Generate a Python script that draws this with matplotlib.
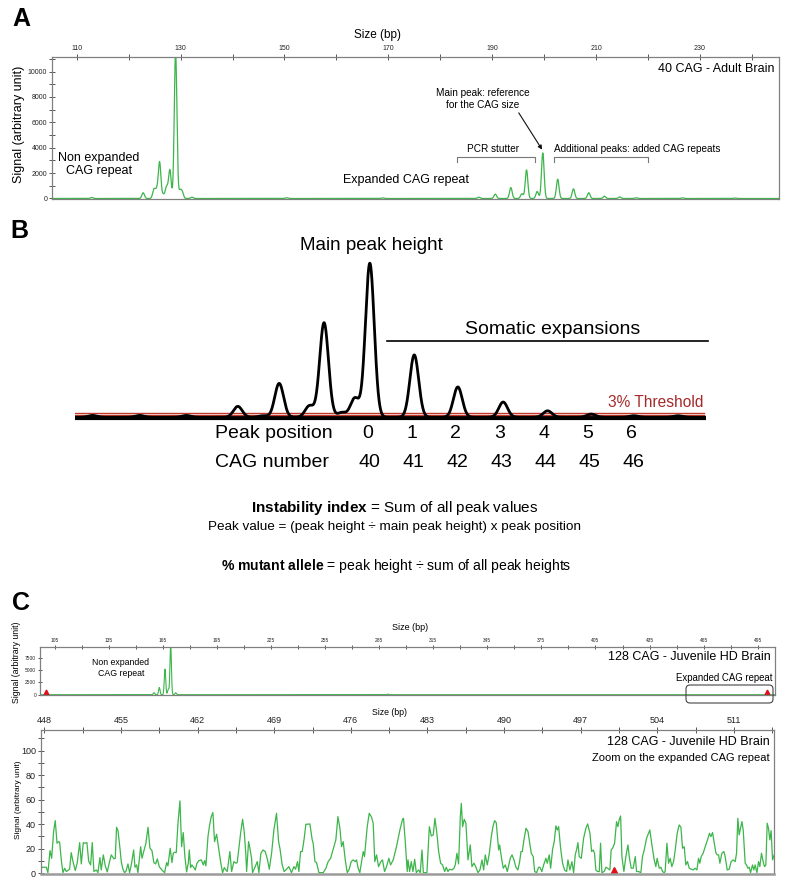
import numpy as np
import matplotlib
matplotlib.use("Agg")
import matplotlib.pyplot as plt
from matplotlib.patches import FancyBboxPatch
from matplotlib.transforms import blended_transform_factory, IdentityTransform

plt.rcParams['font.family'] = ['Liberation Sans', 'DejaVu Sans']
plt.rcParams['mathtext.fontset'] = 'custom'
plt.rcParams['mathtext.rm'] = 'Liberation Sans'
plt.rcParams['mathtext.it'] = 'Liberation Sans:italic'
plt.rcParams['mathtext.bf'] = 'Liberation Sans:bold'

# ---------------- data ----------------
# Panel A: 40 CAG adult brain (peak table: size bp, signal)
a_peak_bp = [112.9, 122.8, 124.87, 125.38, 125.96, 126.65, 127.3, 127.94, 129.04, 129.87,
             130.3, 132.2, 150.4, 168.9, 187.42, 190.58, 193.58, 195.7, 196.6, 198.65,
             199.73, 202.6, 205.63, 208.58, 211.6, 214.54, 217.7, 226.6, 236.7]
a_peak_signal = [80, 450, 700, 600, 2860, 300, 900, 2250, 11600, 550,
                 500, 100, 60, 50, 100, 340, 860, 370, 2250, 550,
                 3590, 1520, 760, 450, 180, 120, 60, 50, 40]
a_xticks = [110, 130, 150, 170, 190, 210, 230]
a_xminor = [120, 140, 160, 180, 200, 220, 240]
a_yticks = [0, 2000, 4000, 6000, 8000, 10000]
a_yminor = [1000, 3000, 5000, 7000, 9000, 11000]

# Panel B: schematic profile (CAG number, relative height, main peak = 100)
b_peak_cag = [33.7, 34.77, 35.83, 37.0, 37.57, 37.94, 38.63, 38.96, 39.36, 39.66,
              40.0, 41.01, 42.0, 43.03, 44.04, 45.03, 46.0, 47.0]
b_peak_height = [1.2, 1.2, 1.2, 7.1, 1.0, 22, 7.5, 61.4, 3.1, 12.5,
                 100, 40.5, 19.7, 9.9, 4.2, 2.1, 1.0, 1.0]
b_threshold = 3.0
b_peak_position = [0, 1, 2, 3, 4, 5, 6]
b_cag_number = [40, 41, 42, 43, 44, 45, 46]

# Panel C top: 128 CAG juvenile HD brain (peak table)
ct_peak_bp = [160.05, 163.0, 166.15, 167.98, 169.3, 172.1, 289.9]
ct_peak_signal = [400, 1470, 5180, 1100, 10200, 400, 120]
ct_xticks = [105, 135, 165, 195, 225, 255, 285, 315, 345, 375, 405, 435, 465, 495]
ct_xminor = [120, 150, 180, 210, 240, 270, 300, 330, 360, 390, 420, 450, 480]
ct_yticks = [0, 2500, 5000, 7500]
size_std_bp = [100, 500]

cb_bp = [447.57, 447.79, 448.18, 448.33, 448.52, 448.67, 448.85, 449.00, 449.16, 449.31,
         449.40, 449.55, 449.70, 449.86, 450.01, 450.31, 450.46, 450.62, 450.83, 451.01,
         451.23, 451.38, 451.56, 451.71, 451.89, 452.05, 452.23, 452.38, 452.53, 452.75,
         452.90, 453.08, 453.20, 453.39, 453.57, 453.75, 453.96, 454.12, 454.36, 454.48,
         454.60, 454.73, 454.91, 455.03, 455.18, 455.33, 455.46, 455.64, 455.79, 455.97,
         456.16, 456.28, 456.43, 456.55, 456.80, 456.92, 457.10, 457.28, 457.47, 457.65,
         457.83, 458.01, 458.17, 458.32, 458.50, 458.74, 458.99, 459.17, 459.29, 459.50,
         459.66, 459.78, 459.90, 460.05, 460.21, 460.39, 460.54, 460.69, 460.84, 461.00,
         461.15, 461.24, 461.36, 461.48, 461.64, 461.79, 461.94, 462.12, 462.34, 462.52,
         462.64, 462.76, 462.95, 463.10, 463.25, 463.40, 463.55, 463.74, 463.92, 464.10,
         464.28, 464.44, 464.59,
         464.71, 464.95, 465.11, 465.32, 465.50, 465.62, 465.93, 466.11, 466.26, 466.41,
         466.48, 466.66, 466.78, 466.93, 467.02, 467.24, 467.45, 467.60, 467.78, 467.98,
         468.18, 468.39, 468.55, 468.76, 468.97, 469.21, 469.40, 469.52, 469.73, 469.91,
         470.13, 470.34, 470.58, 470.80, 470.95, 471.13, 471.25, 471.41, 471.56, 471.74,
         471.89, 472.26, 472.47, 472.56, 472.72, 472.87, 473.08, 473.48, 473.72, 473.93,
         474.15, 474.54, 474.63, 474.82, 475.00, 475.15, 475.30, 475.49, 475.67, 475.85,
         476.03, 476.22, 476.40, 476.52, 476.67, 476.82, 477.13, 477.25, 477.49, 477.68,
         477.89, 478.04, 478.19, 478.35, 478.53, 478.74, 478.89, 479.08, 479.26, 479.47,
         479.63, 479.87, 480.17, 480.48, 480.72, 480.81, 480.96, 481.15,
         481.22, 481.37, 481.52, 481.67, 481.83, 481.98, 482.19, 482.34, 482.50, 482.62,
         482.95, 483.17, 483.35, 483.53, 483.68, 483.84, 484.02, 484.20, 484.38, 484.57,
         484.72, 484.87, 485.02, 485.24, 485.42, 485.54, 485.69, 485.84, 486.00, 486.09,
         486.21, 486.36, 486.51, 486.70, 486.91, 487.06, 487.25, 487.43, 487.61, 487.79,
         487.98, 488.13, 488.28, 488.46, 488.65, 488.83, 488.98, 489.13, 489.28, 489.50,
         489.59, 489.74, 489.92, 490.11, 490.29, 490.41, 490.56, 490.72, 490.90, 491.08,
         491.26, 491.42, 491.54, 491.66, 491.81, 492.00, 492.18, 492.36, 492.48, 492.66,
         492.79, 492.97, 493.15, 493.27, 493.45, 493.61, 493.82, 493.94, 494.12, 494.25,
         494.43, 494.58, 494.73, 494.86, 494.98, 495.16, 495.34, 495.52, 495.71, 495.83,
         496.01, 496.19, 496.35, 496.50, 496.65, 496.74, 496.86, 497.05, 497.26, 497.47,
         497.63, 497.84,
         497.99, 498.14, 498.26, 498.38, 498.54, 498.69, 498.81, 498.93, 499.14, 499.30,
         499.45, 499.66, 499.78, 499.91, 500.09, 500.27, 500.39, 500.51, 500.64, 500.76,
         500.94, 501.12, 501.31, 501.43, 501.61, 501.79, 501.98, 502.10, 502.28, 502.49,
         502.64, 502.80, 503.01, 503.19, 503.31, 503.50, 503.71, 503.86, 503.98, 504.17,
         504.32, 504.47, 504.62, 504.71, 504.87, 505.02, 505.17, 505.32, 505.48, 505.63,
         505.81, 505.99, 506.15, 506.30, 506.45, 506.60, 506.75, 506.91, 507.09, 507.27,
         507.45, 507.61, 507.76, 507.88, 508.00, 508.18, 508.37, 508.58, 508.76, 508.89,
         509.04, 509.22, 509.34, 509.46, 509.59, 509.71, 509.89, 510.07, 510.19, 510.38,
         510.56, 510.74, 510.92, 511.11, 511.23, 511.35, 511.47, 511.59, 511.72, 511.84,
         512.02, 512.14, 512.26, 512.39, 512.51, 512.69, 512.81, 512.93, 513.09, 513.24,
         513.36, 513.51, 513.66, 513.79, 513.91, 514.03, 514.15, 514.27, 514.39, 514.52,
         514.67]
cb_signal = [1.4, 4.9, 4.9, 0.5, 18.5, 12.2, 34, 42.9, 24.5, 25.8,
             25.3, 10.9, 0.5, 4.1, 1.4, 3.3, 16.8, 9.5, 2.2, 8.7,
             25, 7.6, 25, 24.5, 25, 10, 6.8, 25, 1.4, 2.7,
             0.5, 12.8, 2.7, 15, 6, 1.1, 9.5, 15, 11.7, 12.2,
             37.5, 34.8, 20.4, 9.5, 3.3, 0.5, 1.6, 7.6, 0.5, 8.2,
             19, 4.9, 6.8, 0.5, 21.7, 12.2, 18.5, 24.5, 37.5, 20.4,
             18.5, 8.7, 7.6, 11.7, 5.4, 2.7, 0.5, 8.7, 6, 20.4,
             8.7, 16.3, 17.1, 16.8, 40.8, 59, 21.7, 33.2, 13.6, 1.1,
             8.2, 19, 4.6, 6.8, 4.9, 2.7, 8.2, 10.3, 10.9, 6.8,
             10.3, 6, 29.9, 39.4, 46.2, 49.5, 25.8, 31.8, 20.4, 9.5,
             0.5, 4.6, 2.7,
             1.4, 17.7, 1.4, 9.5, 8.2, 8.7, 32.6, 44, 34, 15,
             1.4, 25.8, 20.4, 12.2, 0.5, 4.9, 9.5, 0.5, 16.3, 19,
             17.7, 10.9, 3.3, 16.3, 35.3, 48.9, 25.8, 20.4, 6.8, 1.4,
             3.3, 5.4, 0.5, 5.4, 3.3, 9.5, 1.4, 17.7, 17.7, 28.5,
             39.9, 40.2, 27.2, 24.5, 9.5, 8.7, 0.5, 0.5, 4.1, 9.5,
             12.2, 24.5, 27.2, 46.2, 36.7, 21.7, 25.8, 10.9, 0.5, 3.3,
             9.5, 10.9, 9.5, 10.9, 4.1, 0.5, 17.7, 13.6, 37.5, 48.9,
             45.7, 40.8, 9.5, 15, 5.4, 9.5, 10.9, 1.4, 5.4, 12.2,
             6.8, 10.9, 21.7, 35.3, 44, 44.8, 27.2, 1.4,
             10.9, 1.4, 9.5, 1.4, 11.4, 0.5, 2.7, 0.5, 19, 0.5,
             0.5, 38, 30.4, 31.3, 44.8, 34, 17.7, 8.2, 6.8, 1.4,
             4.9, 1.4, 3.3, 2.7, 4.1, 6.8, 16.3, 7.6, 46.2, 57,
             38, 44, 40.8, 10.9, 23.1, 5.4, 8.2, 4.9, 0.5, 2.7,
             10.9, 2.7, 15, 6.8, 16.3, 29.9, 38, 42.9, 41.3, 19,
             23.1, 13.6, 4.1, 6.8, 1.4, 6, 12.2, 15, 10.9, 4.9,
             2.7, 9.5, 17.7, 17.7, 27.2, 36.7, 34, 23.1, 16.3, 13.6,
             1.4, 0.5, 4.9, 4.9, 1.4, 6.8, 12.2, 8.2, 15, 4.1,
             19.6, 25.8, 38.6, 35.3, 38, 20.4, 8.2, 2.7, 1.4, 10.9,
             2.7, 9.5, 0.5, 15, 20.4, 25, 13.6, 12.2, 28.5, 36.7,
             40.2, 32.6,
             17.7, 19, 16.3, 2.7, 1.4, 1.4, 24.5, 0.5, 1.4, 4.9,
             4.1, 2.7, 19, 20.4, 24.5, 42.1, 38, 43.5, 46.7, 13.6,
             1.4, 13.6, 23.1, 13.6, 4.1, 4.1, 13.6, 1.4, 1.4, 0.5,
             13.6, 19, 28.5, 32.6, 35.3, 23.1, 10.9, 5.4, 12.2, 4.1,
             4.9, 1.4, 0.5, 1.4, 24.5, 8.2, 12.2, 5.4, 9.5, 19,
             32.6, 39.4, 37.5, 20.4, 21.7, 6.8, 9.5, 4.1, 3.3, 2.7,
             4.1, 2.7, 12.2, 8.2, 13.6, 16.3, 21.7, 27.2, 32.6, 29.9,
             33.2, 23.1, 16.8, 15, 15, 8.2, 16.3, 17.7, 13.6, 2.7,
             3.3, 9.5, 10.9, 9.5, 16.3, 44.8, 31.3, 36.7, 42.1, 35.3,
             8.2, 6.8, 4.1, 4.9, 0.5, 6.8, 2.7, 6.8, 0.5, 9.5,
             5.4, 16.3, 9.5, 5.4, 6.8, 40.8, 36.7, 27.2, 34.8, 10.9,
             15]
cb_xticks = [448, 455, 462, 469, 476, 483, 490, 497, 504, 511]
cb_xminor = [451.5, 458.5, 465.5, 472.5, 479.5, 486.5, 493.5, 500.5, 507.5, 514.5]
cb_yticks = [0, 20, 40, 60, 80, 100]
cb_yminor = [10, 30, 50, 70, 90, 110]

# ---------------- styling ----------------
W, H = 790, 890
GREEN = '#3cb54a'
SPINE = '#808080'
TICKC = '#555555'
RED = '#e0101a'
DARKRED = '#a52a2a'

fig = plt.figure(figsize=(W / 100, H / 100), dpi=100)
fig.patch.set_facecolor('white')


def rect(l, t, r, b):
    return [l / W, 1 - b / H, (r - l) / W, (b - t) / H]


def ftext(x, y, s, **kw):
    kw.setdefault('ha', 'center')
    kw.setdefault('va', 'center')
    return fig.text(x / W, 1 - y / H, s, **kw)


def peaks_trace(x, pos, hts, sigma):
    y = np.zeros_like(x)
    for p, h in zip(pos, hts):
        y += h * np.exp(-0.5 * ((x - p) / sigma) ** 2)
    return y


def style_trace_axes(ax, lab_size, tick_len):
    for s in ax.spines.values():
        s.set_color(SPINE)
        s.set_linewidth(0.9)
    ax.xaxis.tick_top()
    ax.tick_params(axis='x', which='both', direction='inout', length=tick_len,
                   width=0.7, colors=TICKC, labelsize=lab_size, pad=1.5,
                   labelcolor='#222222', bottom=False, top=True)
    ax.tick_params(axis='y', which='both', direction='inout', length=tick_len,
                   width=0.7, colors=TICKC, labelsize=lab_size, pad=1.5,
                   labelcolor='#222222', right=False)


# ---------------- Panel A ----------------
ax_a = fig.add_axes(rect(52, 57, 779, 199))
xa = np.linspace(105.25, 245.2, 6000)
ax_a.plot(xa, peaks_trace(xa, a_peak_bp, a_peak_signal, 0.25), color=GREEN, lw=0.9)
ax_a.set_xlim(105.25, 245.2)
ax_a.set_ylim(-40, 11150)
ax_a.set_xticks(a_xticks, [str(v) for v in a_xticks])
ax_a.set_xticks(a_xminor, minor=True)
ax_a.set_yticks(a_yticks, [str(v) for v in a_yticks])
ax_a.set_yticks(a_yminor, minor=True)
style_trace_axes(ax_a, 5, 4)

ax_a.plot([183.27, 183.27, 198.27, 198.27], [2900, 3250, 3250, 2900], color='#777777', lw=0.8)
ax_a.plot([201.85, 201.85, 220.0, 220.0], [2900, 3250, 3250, 2900], color='#777777', lw=0.8)
ax_a.annotate('', xy=(199.6, 3850), xytext=(195.1, 6750),
              arrowprops=dict(arrowstyle='-|>', color='#111111', lw=0.8, mutation_scale=6,
                              shrinkA=0, shrinkB=0))

ftext(12, 19, 'A', fontsize=18, fontweight='bold', ha='left')
ftext(378, 35, 'Size (bp)', fontsize=8.5)
ftext(19, 124, 'Signal (arbitrary unit)', fontsize=9, rotation=90)
ftext(775, 69, '40 CAG - Adult Brain', fontsize=9, ha='right')
ftext(99, 164.5, 'Non expanded\nCAG repeat', fontsize=9, linespacing=1.15)
ftext(406, 180, 'Expanded CAG repeat', fontsize=9)
ftext(483, 98.8, 'Main peak: reference\nfor the CAG size', fontsize=7.2, linespacing=1.2)
ftext(493, 149, 'PCR stutter', fontsize=7.2)
ftext(554.3, 149, 'Additional peaks: added CAG repeats', fontsize=7.2, ha='left')

# ---------------- Panel B ----------------
ax_b = fig.add_axes(rect(75, 240, 706, 430))
ax_b.set_axis_off()
ax_b.set_xlim(33.3, 47.64)
ax_b.set_ylim(-8.25, 115.1)
xb = np.linspace(33.3, 47.64, 5000)
ax_b.plot([33.3, 47.64], [-0.3, -0.3], color='black', lw=3.0, solid_capstyle='butt', zorder=2)
ax_b.plot([33.3, 47.6], [b_threshold, b_threshold], color='#c0392b', lw=1.0, zorder=3)
ax_b.plot([33.3, 47.6], [b_threshold - 1.3, b_threshold - 1.3], color='#c0392b', lw=0.9, zorder=3)
ax_b.plot(xb, peaks_trace(xb, b_peak_cag, b_peak_height, 0.1), color='black', lw=2.0,
          zorder=4, solid_joinstyle='round')
ax_b.plot([40.4, 47.68], [49.5, 49.5], color='black', lw=1.2, clip_on=False)

ftext(10, 231, 'B', fontsize=18, fontweight='bold', ha='left')
ftext(371, 246, 'Main peak height', fontsize=13.5)
ftext(553, 330, 'Somatic expansions', fontsize=14)
ftext(703, 402, '3% Threshold', fontsize=11.2, ha='right', color=DARKRED)
ftext(215, 433, 'Peak position', fontsize=14, ha='left')
ftext(215, 463, 'CAG number', fontsize=14, ha='left')
btr = blended_transform_factory(ax_b.transData, fig.transFigure)
for c, p in zip(b_cag_number, b_peak_position):
    ax_b.text(c - 0.05, 1 - 433 / H, str(p), transform=btr, ha='center', va='center', fontsize=14)
    ax_b.text(c, 1 - 463 / H, str(c), transform=btr, ha='center', va='center', fontsize=14)

ftext(395, 508, r'$\mathbf{Instability\ index}$ = Sum of all peak values', fontsize=11)
ftext(395, 527, 'Peak value = (peak height ÷ main peak height) x peak position', fontsize=9.7)
ftext(396, 566, r'$\mathbf{\%\ mutant\ allele}$ = peak height ÷ sum of all peak heights', fontsize=10.1)

# ---------------- Panel C top ----------------
ax_ct = fig.add_axes(rect(40, 646.7, 775, 695))
xct = np.linspace(96.8, 504.6, 8000)
ax_ct.plot(xct, peaks_trace(xct, ct_peak_bp, ct_peak_signal, 0.4), color=GREEN, lw=0.8)
ax_ct.set_xlim(96.8, 504.6)
ax_ct.set_ylim(-60, 9740)
ax_ct.set_xticks(ct_xticks, [str(v) for v in ct_xticks])
ax_ct.set_xticks(ct_xminor, minor=True)
ax_ct.set_yticks(ct_yticks, [str(v) for v in ct_yticks])
style_trace_axes(ax_ct, 3.5, 2.5)
tct = blended_transform_factory(ax_ct.transData, ax_ct.transAxes)
ax_ct.plot(size_std_bp, [0.07, 0.07], transform=tct, ls='none', marker='^', ms=3.5,
           color=RED, clip_on=False)

ftext(12, 603, 'C', fontsize=18, fontweight='bold', ha='left')
ftext(410, 628, 'Size (bp)', fontsize=6.5)
ftext(17, 662, 'Signal (arbitrary unit)', fontsize=6.3, rotation=90)
ftext(120.7, 668, 'Non expanded\nCAG repeat', fontsize=6.3, linespacing=1.15)
ftext(771, 656.7, '128 CAG - Juvenile HD Brain', fontsize=9, ha='right')
ftext(772, 678.3, 'Expanded CAG repeat', fontsize=6.9, ha='right')
box = FancyBboxPatch((686, H - 703), 87, 18, boxstyle='round,pad=0,rounding_size=4',
                     transform=IdentityTransform(), facecolor='none', edgecolor='#444444', lw=0.8)
fig.patches.append(box)

# ---------------- Panel C bottom ----------------
ax_cb = fig.add_axes(rect(40.7, 730, 774.3, 874))
ax_cb.plot(cb_bp, cb_signal, color=GREEN, lw=0.9)
ax_cb.set_xlim(447.67, 514.68)
ax_cb.set_ylim(-0.6, 116.8)
ax_cb.set_xticks(cb_xticks, [str(v) for v in cb_xticks])
ax_cb.set_xticks(cb_xminor, minor=True)
ax_cb.set_yticks(cb_yticks, [str(v) for v in cb_yticks])
ax_cb.set_yticks(cb_yminor, minor=True)
style_trace_axes(ax_cb, 6.5, 4)
ax_cb.spines['bottom'].set_linewidth(1.8)
ax_cb.spines['bottom'].set_color('#9a9a9a')
tcb = blended_transform_factory(ax_cb.transData, ax_cb.transAxes)
ax_cb.plot([b for b in size_std_bp if 447.67 <= b <= 514.68], [0.025], transform=tcb, ls='none',
           marker='^', ms=5, color=RED, clip_on=False)

ftext(390, 712.7, 'Size (bp)', fontsize=6.3)
ftext(18.3, 800, 'Signal (arbitrary unit)', fontsize=6, rotation=90)
ftext(770, 742.3, '128 CAG - Juvenile HD Brain', fontsize=9, ha='right')
ftext(770, 757.7, 'Zoom on the expanded CAG repeat', fontsize=8, ha='right')

fig.savefig('out.png', dpi=100, facecolor='white')
